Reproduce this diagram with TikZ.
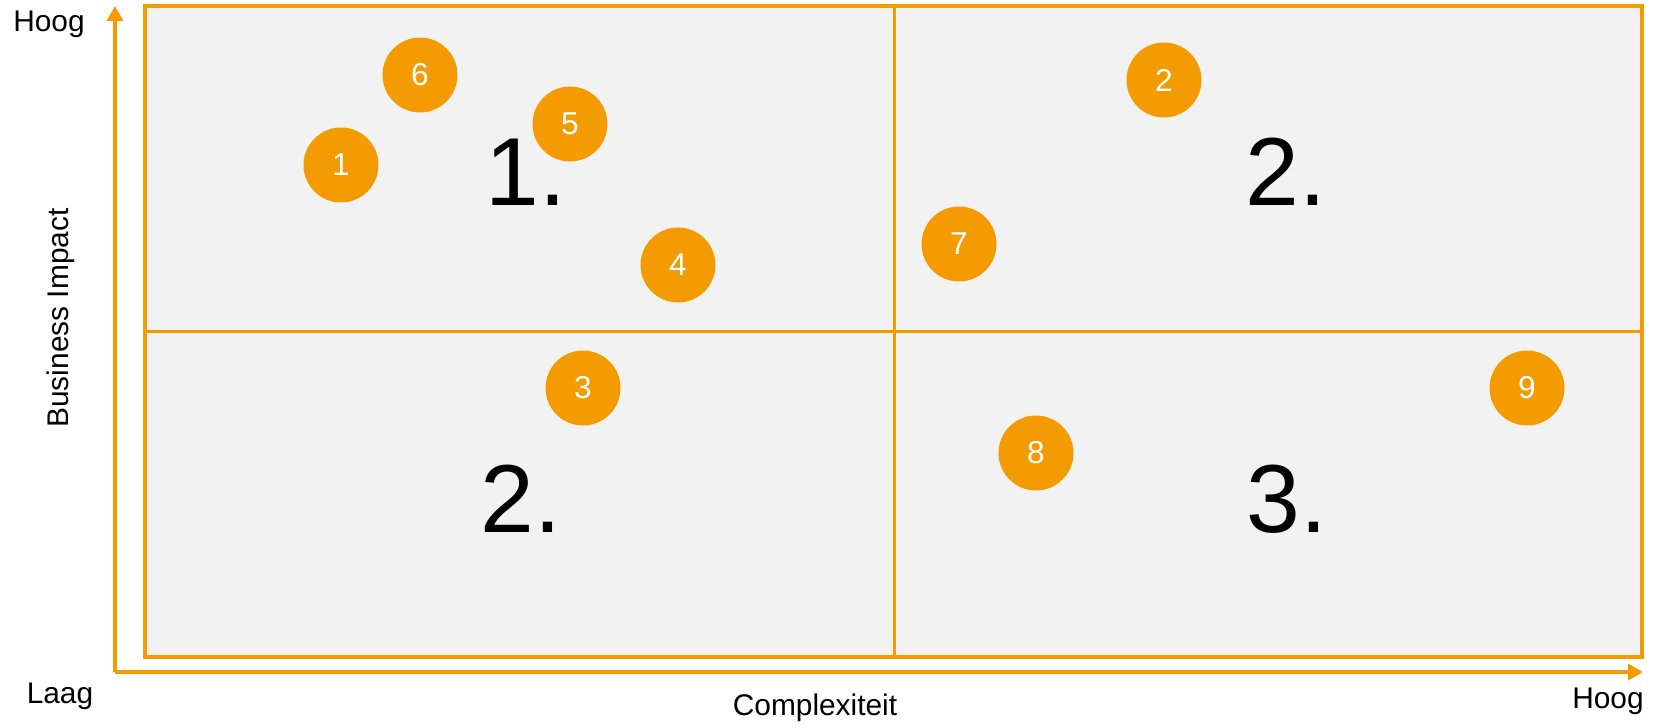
\documentclass[tikz,border=0pt]{standalone}
\usepackage{fontspec}
\setmainfont{Liberation Sans}
\usetikzlibrary{arrows.meta, positioning}
\definecolor{matorange}{HTML}{F39B00}
\definecolor{matgray}{HTML}{F2F2F2}

\begin{document}
\begin{tikzpicture}[
    x=0.02cm, y=-0.02cm,
    quadrant/.style={draw=matorange, fill=matgray, line width=0.07cm},
    divider/.style={draw=matorange, line width=0.06cm},
    axis/.style={draw=matorange, line width=0.08cm, -{Triangle[length=0.3cm, width=0.32cm]}},
    item/.style={circle, fill=matorange, text=white, minimum size=1.5cm, inner sep=0pt, font=\fontsize{18}{20}\selectfont},
    prio/.style={font=\fontsize{55}{60}\selectfont},
    axlabel/.style={font=\fontsize{17}{20}\selectfont, inner sep=0pt}
]
\useasboundingbox (0,0) rectangle (1659,727);
\fill[white] (0,0) rectangle (1659,727);
\draw[quadrant] (145,6) rectangle (1642,657);
\draw[divider] (894,6) -- (894,657);
\draw[divider] (145,331) -- (1642,331);

\coordinate (origin) at (115,672);
\coordinate (ytip) at (115,6);
\coordinate (xtip) at (1643,672);
\draw[axis] (origin) -- (ytip);
\draw[axis] (origin) -- (xtip);

\node[prio] (q1) at (526,172) {1.};
\node[prio] (q2a) at (1286,172) {2.};
\node[prio] (q2b) at (521,499) {2.};
\node[prio] (q3) at (1287,499) {3.};

\node[item] (p1) at (341,165) {1};
\node[item] (p2) at (1164,80) {2};
\node[item] (p3) at (583,388) {3};
\node[item] (p4) at (678,265) {4};
\node[item] (p5) at (570,124) {5};
\node[item] (p6) at (420,75) {6};
\node[item] (p7) at (959,244) {7};
\node[item] (p8) at (1036,453) {8};
\node[item] (p9) at (1527,388) {9};

\node[axlabel, anchor=base] (yhigh) at (49,31) {Hoog};
\node[axlabel, anchor=base] (low) at (60,703) {Laag};
\node[axlabel, anchor=base east] (xhigh) at (1644,708) {Hoog};
\node[axlabel, anchor=base] (xname) at (815,715) {Complexiteit};
\node[axlabel, rotate=90] (yname) at (61,318) {Business Impact};
\end{tikzpicture}
\end{document}
